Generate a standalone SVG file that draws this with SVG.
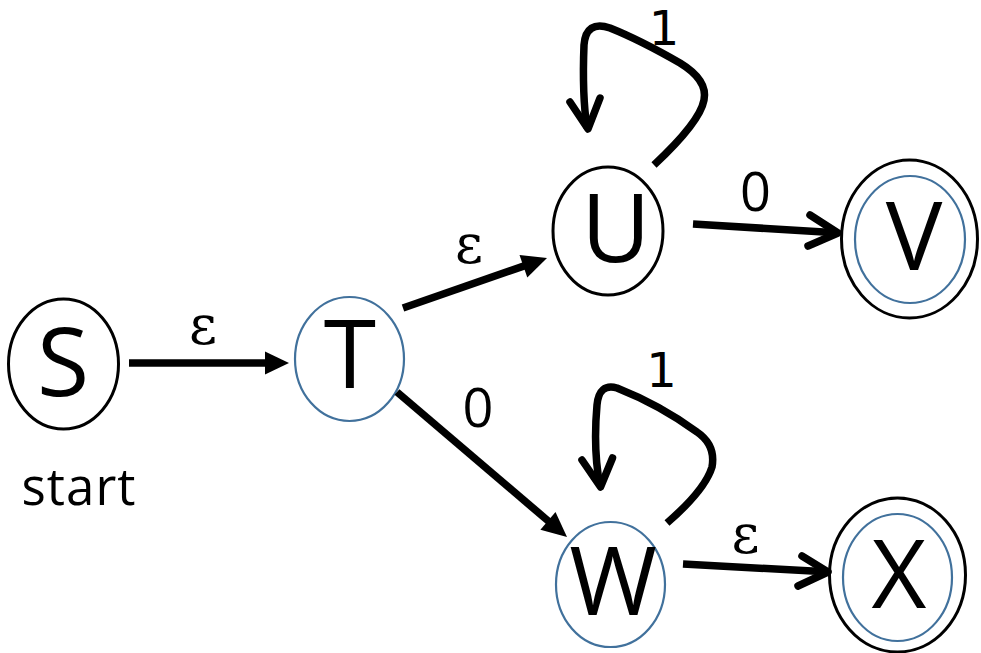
<svg xmlns="http://www.w3.org/2000/svg" width="981" height="653" viewBox="0 0 981 653">
<style>
.bk{fill:none;stroke:#000;stroke-width:3}
.bl{fill:none;stroke:#41719C;stroke-width:2.2}
.st{font-family:"Open Sans","Liberation Sans",sans-serif;font-size:95px;fill:#000;text-anchor:middle}
.lbl{font-family:"Open Sans","Liberation Sans",sans-serif;font-size:54px;fill:#000;text-anchor:middle}
.one{font-family:"DejaVu Sans","Open Sans",sans-serif;font-size:48px;fill:#000;text-anchor:middle}
.eps{font-family:"DejaVu Serif","Liberation Serif",serif;font-size:54px;fill:#000;text-anchor:middle}
.edge{fill:none;stroke:#000;stroke-width:7.5}
.chev{fill:none;stroke:#000;stroke-width:7.5;stroke-linecap:round;stroke-linejoin:round}
.head{fill:#000}
</style>
<rect width="981" height="653" fill="#fff"/>
<g id="S">
<ellipse class="bk" cx="63.5" cy="364" rx="55" ry="65"/>
<text class="st" x="63" y="396">S</text>
<text class="lbl" x="79" y="505" style="font-size:51px;letter-spacing:1px">start</text>
</g>
<g id="T">
<ellipse class="bl" cx="349.5" cy="359" rx="54.5" ry="62"/>
<text class="st" x="350" y="388">T</text>
</g>
<g id="U">
<ellipse class="bk" cx="608" cy="231" rx="55" ry="64"/>
<text class="st" x="616" y="262">U</text>
</g>
<g id="V">
<ellipse class="bk" cx="909.5" cy="239" rx="68" ry="79"/>
<ellipse class="bl" cx="910" cy="239.5" rx="55" ry="63.5"/>
<text class="st" x="914" y="270">V</text>
</g>
<g id="W">
<ellipse class="bl" cx="610.5" cy="584.5" rx="54.5" ry="62.5"/>
<text class="st" x="613" y="615">W</text>
</g>
<g id="X">
<ellipse class="bk" cx="897.5" cy="575" rx="68" ry="77"/>
<ellipse class="bl" cx="897.5" cy="577.5" rx="54.5" ry="63.5"/>
<text class="st" x="899" y="608">X</text>
</g>
<g id="connectors">
<line class="edge" x1="129" y1="363" x2="267" y2="363"/>
<polygon class="head" points="289,363 265,351.5 265,374.5"/>
<text class="eps" x="203" y="344">ε</text>

<line class="edge" x1="403" y1="308" x2="525" y2="265.6"/>
<polygon class="head" points="547,258 519.5,255 527.3,277.6"/>
<text class="eps" x="469" y="263">ε</text>

<line class="edge" x1="397" y1="392" x2="550" y2="522.5"/>
<polygon class="head" points="567,537 555.5,512.1 540.4,529.8"/>
<text class="lbl" x="478" y="427">0</text>

<line class="edge" x1="693" y1="224" x2="836" y2="232.8"/>
<path class="chev" d="M810,215 L838,233 L808,246"/>
<text class="lbl" x="755.5" y="211">0</text>

<line class="edge" x1="683" y1="564" x2="826" y2="571.8"/>
<path class="chev" d="M802,556 L828,572 L798,586"/>
<text class="eps" x="745.5" y="553">ε</text>

<path class="edge" d="M654,165 Q 700,122 704,100 Q 708,80 680,63 Q 640,40 610,28 Q 586,20 584,45 Q 582,95 587,128"/>
<path class="chev" d="M570,102 L588,129 L600,98"/>
<text class="one" x="664" y="45">1</text>

<path class="edge" d="M667,523 Q 705,490 712,467 Q 716,445 697,432 Q 660,405 617,388 Q 599,383 597,405 Q 593,450 600,486"/>
<path class="chev" d="M582,460 L600.5,487 L612.5,458"/>
<text class="one" x="661.5" y="387">1</text>
</g>
</svg>
